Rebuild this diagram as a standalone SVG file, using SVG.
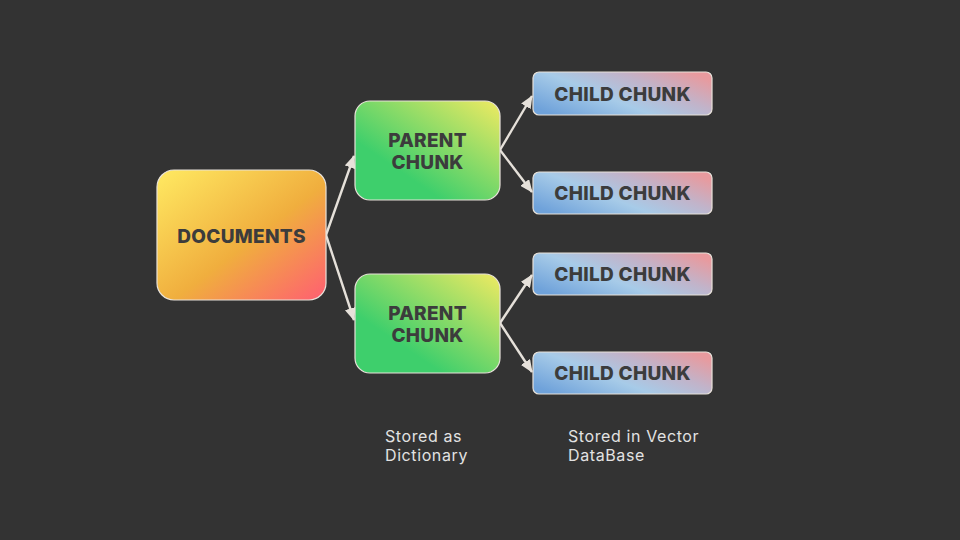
<svg xmlns="http://www.w3.org/2000/svg" width="960" height="540" viewBox="0 0 960 540">
<defs>
<linearGradient id="gDoc" x1="0" y1="0" x2="1" y2="1">
<stop offset="0" stop-color="#FFEA62"/>
<stop offset="0.55" stop-color="#F0AE3E"/>
<stop offset="1" stop-color="#FF5E72"/>
</linearGradient>
<linearGradient id="gPar" x1="0" y1="1" x2="1" y2="0">
<stop offset="0.3" stop-color="#3ECF6C"/>
<stop offset="1" stop-color="#F0EA62"/>
</linearGradient>
<linearGradient id="gChild" x1="0" y1="0.8" x2="1" y2="0.2">
<stop offset="0" stop-color="#6FA2DA"/>
<stop offset="0.4" stop-color="#A7CBE8"/>
<stop offset="0.7" stop-color="#C2B3C9"/>
<stop offset="1" stop-color="#E89A9E"/>
</linearGradient>
<marker id="ah" viewBox="0 0 13 11" refX="12" refY="5.5" markerWidth="13" markerHeight="11" markerUnits="userSpaceOnUse" orient="auto">
<path d="M0,0 L13,5.5 L0,11 Z" fill="#E6E1DA"/>
</marker>
<style>
.box{stroke:#E8E2DA;stroke-width:1.2}
.lbl{font-family:Inter,"Liberation Sans",sans-serif;font-weight:800;font-size:19px;letter-spacing:0.3px;fill:#3C3C3C;text-anchor:middle}
.note{font-family:Inter,"Liberation Sans",sans-serif;font-size:16px;letter-spacing:0.6px;fill:#E2E2E2}
.conn{stroke:#E6E1DA;stroke-width:2.4;fill:none;marker-end:url(#ah)}
</style>
</defs>
<rect width="960" height="540" fill="#333333"/>
<g id="connectors">
<path class="conn" d="M326,235 L354,156"/>
<path class="conn" d="M326,235 L354,320"/>
<path class="conn" d="M500,150 L532,96"/>
<path class="conn" d="M500,150 L532,192"/>
<path class="conn" d="M500,323 L532,275"/>
<path class="conn" d="M500,323 L532,372"/>
</g>
<g id="documents">
<rect class="box" x="157" y="170" width="169" height="130" rx="17" fill="url(#gDoc)"/>
<text class="lbl" x="241.5" y="243">DOCUMENTS</text>
</g>
<g id="parent1">
<rect class="box" x="355" y="101" width="145" height="99" rx="15" fill="url(#gPar)"/>
<text class="lbl" x="427.5" y="147">PARENT</text>
<text class="lbl" x="427.5" y="169">CHUNK</text>
</g>
<g id="parent2">
<rect class="box" x="355" y="274" width="145" height="99" rx="15" fill="url(#gPar)"/>
<text class="lbl" x="427.5" y="320">PARENT</text>
<text class="lbl" x="427.5" y="342">CHUNK</text>
</g>
<g id="child1">
<rect class="box" x="533" y="72" width="179" height="43" rx="6" fill="url(#gChild)"/>
<text class="lbl" x="622.5" y="101">CHILD CHUNK</text>
</g>
<g id="child2">
<rect class="box" x="533" y="172" width="179" height="42" rx="6" fill="url(#gChild)"/>
<text class="lbl" x="622.5" y="200">CHILD CHUNK</text>
</g>
<g id="child3">
<rect class="box" x="533" y="253" width="179" height="42" rx="6" fill="url(#gChild)"/>
<text class="lbl" x="622.5" y="281">CHILD CHUNK</text>
</g>
<g id="child4">
<rect class="box" x="533" y="352" width="179" height="42" rx="6" fill="url(#gChild)"/>
<text class="lbl" x="622.5" y="380">CHILD CHUNK</text>
</g>
<g id="notes">
<text class="note" x="385" y="442">Stored as</text>
<text class="note" x="385" y="461">Dictionary</text>
<text class="note" x="568" y="442">Stored in Vector</text>
<text class="note" x="568" y="461">DataBase</text>
</g>
</svg>
